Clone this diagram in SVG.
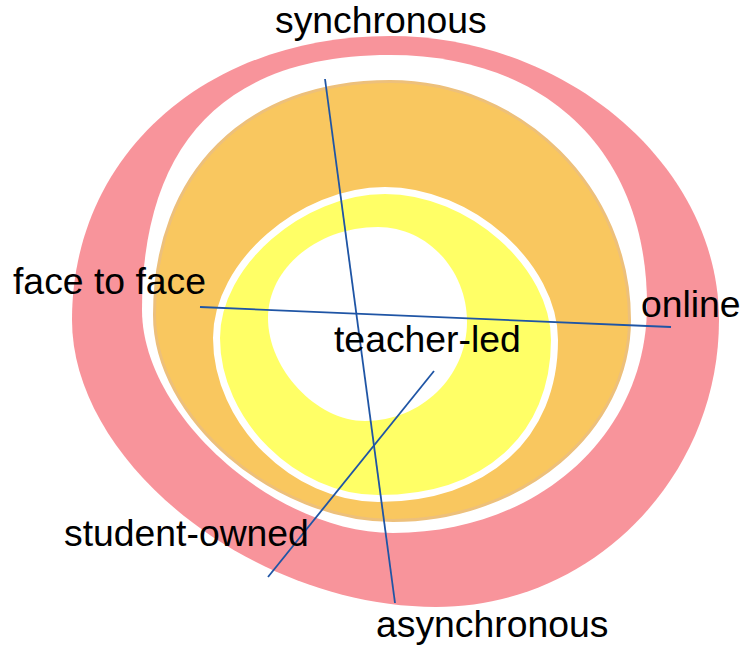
<svg xmlns="http://www.w3.org/2000/svg" width="754" height="648" viewBox="0 0 754 648">
<style>
.lbl{font-family:"Liberation Sans",Arial,sans-serif;font-size:37.33px;fill:#000}
.conn{stroke:#1F55A5;stroke-width:1.8;fill:none}
</style>
<rect width="754" height="648" fill="#fff"/>
<g id="ring-outer">
<path fill="#F8949B" d="M390,36 C567.7,36 719,166.6 719,320 C719,477.9 591.7,607 436,607 C254,607 72,463.5 72,320 C72,155.3 205.6,36 390,36 Z"/>
<path fill="#fff" d="M390,55 C546.8,55 647,152.5 647,305 C647,435 537.8,533 393,533 C275,533 142,414.8 142,310 C142,141.7 226.3,55 390,55 Z"/>
</g>
<g id="ring-middle">
<path fill="#F9C75F" stroke="#EDC07B" stroke-width="3" d="M390,81.5 C521.7,81.5 629.5,188.8 629.5,320 C629.5,430.3 523.1,520.5 393,520.5 C273.8,520.5 154.5,417.8 154.5,315 C154.5,172.6 246.3,81.5 390,81.5 Z"/>
</g>
<g id="ring-inner">
<path fill="#FFFF66" stroke="#fff" stroke-width="7" d="M385,190.5 C469.8,190.5 554.5,265.3 554.5,340 C554.5,436.7 485.7,498.5 378,498.5 C294,498.5 216.5,421.5 216.5,338 C216.5,264.3 300.8,190.5 385,190.5 Z"/>
<path fill="#fff" d="M378,227 C427,227 467,269.8 467,322 C467,376.5 421.1,421 365,421 C316.5,421 268,369.5 268,318 C268,268 317.5,227 378,227 Z"/>
</g>
<g id="connectors">
<line class="conn" x1="325" y1="79" x2="395" y2="603"/>
<line class="conn" x1="200" y1="307" x2="671" y2="327"/>
<line class="conn" x1="268" y1="577" x2="434" y2="371"/>
</g>
<g id="label-synchronous"><text class="lbl" x="275" y="33">synchronous</text></g>
<g id="label-face-to-face"><text class="lbl" x="13" y="294">face to face</text></g>
<g id="label-online"><text class="lbl" x="641" y="317">online</text></g>
<g id="label-teacher-led"><text class="lbl" x="334" y="352">teacher-led</text></g>
<g id="label-student-owned"><text class="lbl" x="64" y="546">student-owned</text></g>
<g id="label-asynchronous"><text class="lbl" x="376" y="637">asynchronous</text></g>
</svg>
